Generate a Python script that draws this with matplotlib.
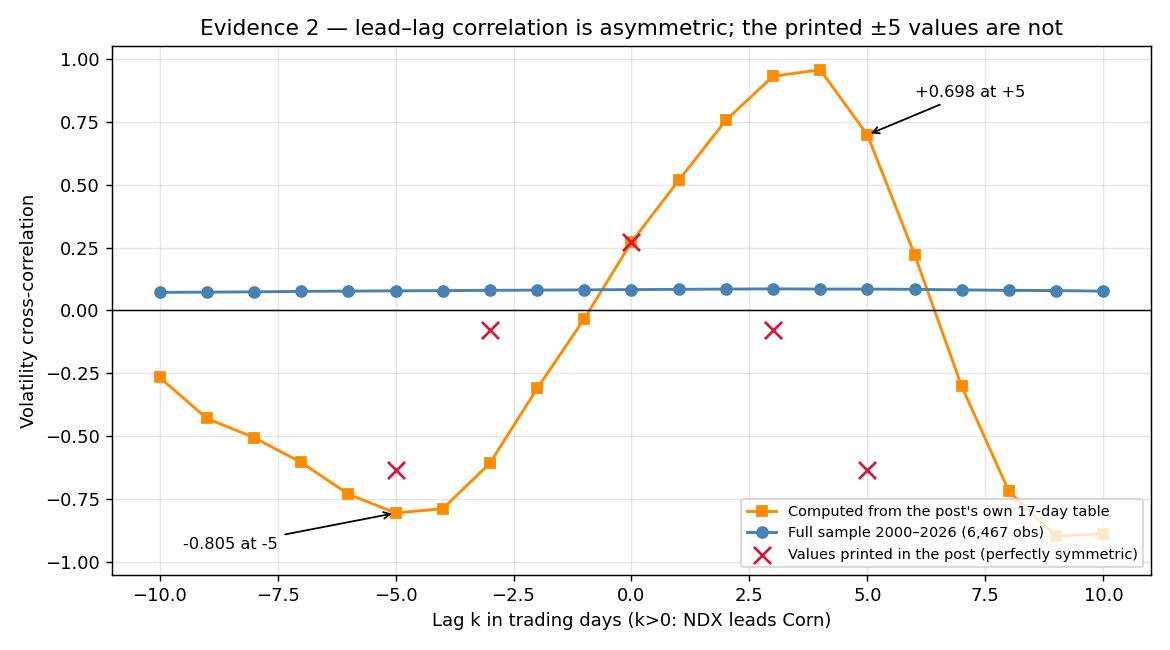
import numpy as np
import matplotlib
matplotlib.use("Agg")
import matplotlib.pyplot as plt

# lags in trading days
lags = np.arange(-10, 11)

# computed from the post's own 17-day table
table_corr = [-0.266, -0.429, -0.505, -0.604, -0.730, -0.805, -0.788, -0.607, -0.310, -0.033,
              0.272, 0.517, 0.756, 0.931, 0.957, 0.698, 0.222, -0.302, -0.719, -0.898, -0.887]

# full sample 2000-2026
full_corr = [0.072, 0.073, 0.074, 0.076, 0.077, 0.078, 0.079, 0.080, 0.081, 0.082,
             0.083, 0.084, 0.085, 0.086, 0.085, 0.085, 0.084, 0.082, 0.080, 0.079, 0.077]

# values printed in the post
printed_lags = [-5, -3, 0, 3, 5]
printed_corr = [-0.633, -0.076, 0.272, -0.076, -0.633]

fig, ax = plt.subplots(figsize=(9, 5), dpi=130)

ax.plot(lags, table_corr, color="darkorange", marker="s", markersize=6, linewidth=1.6,
        label="Computed from the post's own 17-day table")
ax.plot(lags, full_corr, color="steelblue", marker="o", markersize=6, linewidth=1.6,
        label="Full sample 2000\u20132026 (6,467 obs)")
ax.scatter(printed_lags, printed_corr, marker="x", s=90, color="crimson", linewidths=1.5,
           zorder=5, label="Values printed in the post (perfectly symmetric)")

ax.axhline(0, color="black", linewidth=0.8)

ax.annotate("+0.698 at +5", xy=(5, 0.698), xytext=(6, 0.85),
            arrowprops=dict(arrowstyle="->", color="black"), fontsize=9)
ax.annotate("-0.805 at -5", xy=(-5, -0.805), xytext=(-9.5, -0.95),
            arrowprops=dict(arrowstyle="->", color="black"), fontsize=9)

ax.set_ylim(-1.05, 1.05)
ax.grid(True, alpha=0.3)
ax.set_title("Evidence 2 \u2014 lead\u2013lag correlation is asymmetric; the printed \u00b15 values are not")
ax.set_xlabel("Lag k in trading days (k>0: NDX leads Corn)")
ax.set_ylabel("Volatility cross-correlation")
ax.legend(loc="lower right", fontsize=8)

fig.tight_layout()
fig.savefig("out.png")
